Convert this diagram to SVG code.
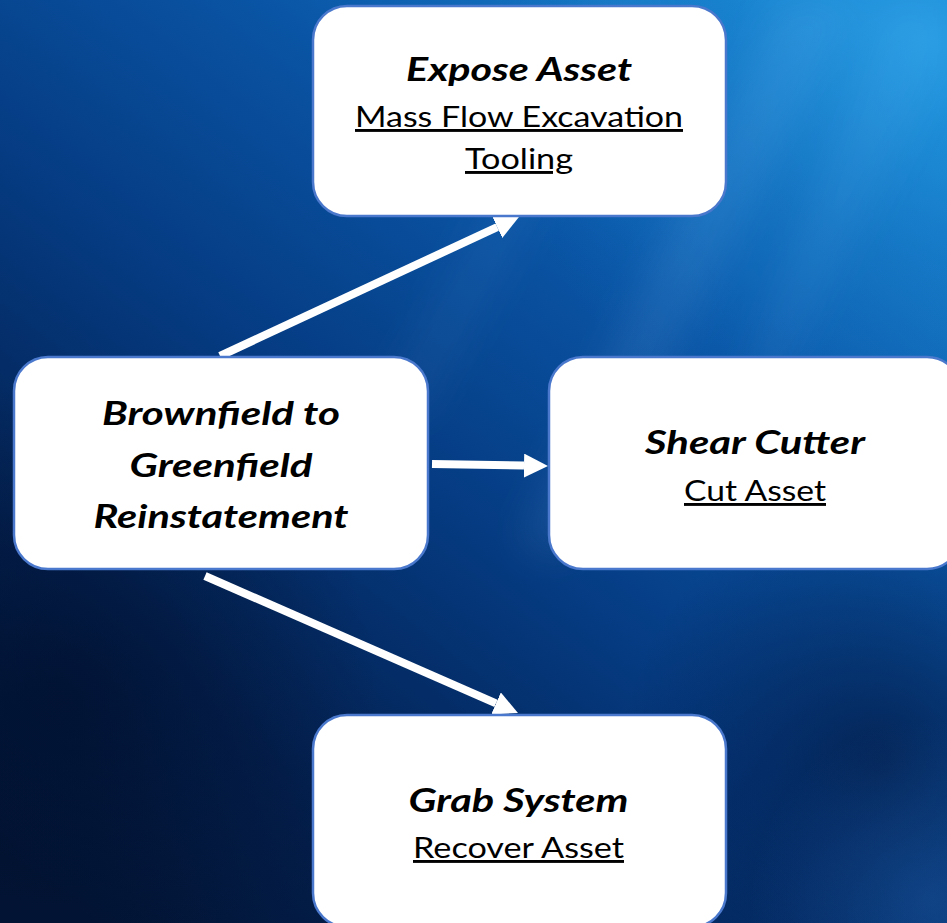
<svg xmlns="http://www.w3.org/2000/svg" width="947" height="923" viewBox="0 0 947 923">
  <defs>
    <linearGradient id="bg" x1="0.9" y1="0" x2="0.1" y2="1">
      <stop offset="0" stop-color="#1b8ed8"/>
      <stop offset="0.3" stop-color="#0a55a6"/>
      <stop offset="0.55" stop-color="#053a80"/>
      <stop offset="0.8" stop-color="#03204f"/>
      <stop offset="1" stop-color="#021536"/>
    </linearGradient>
    <radialGradient id="glowTR" cx="930" cy="40" r="440" gradientUnits="userSpaceOnUse">
      <stop offset="0" stop-color="#2aa2e8" stop-opacity="0.6"/>
      <stop offset="0.5" stop-color="#1a80d0" stop-opacity="0.25"/>
      <stop offset="1" stop-color="#1a80d0" stop-opacity="0"/>
    </radialGradient>
    <radialGradient id="glowBR" cx="930" cy="900" r="180" gradientUnits="userSpaceOnUse">
      <stop offset="0" stop-color="#2a70c0" stop-opacity="0.3"/>
      <stop offset="1" stop-color="#2a70c0" stop-opacity="0"/>
    </radialGradient>
    <radialGradient id="darkBL" cx="60" cy="700" r="320" gradientUnits="userSpaceOnUse">
      <stop offset="0" stop-color="#010d28" stop-opacity="0.6"/>
      <stop offset="1" stop-color="#010d28" stop-opacity="0"/>
    </radialGradient>
    <radialGradient id="darkBR" cx="880" cy="760" r="260" gradientUnits="userSpaceOnUse">
      <stop offset="0" stop-color="#020f30" stop-opacity="0.55"/>
      <stop offset="1" stop-color="#020f30" stop-opacity="0"/>
    </radialGradient>
    <filter id="blur" x="-20%" y="-20%" width="140%" height="140%">
      <feGaussianBlur stdDeviation="18"/>
    </filter>
    <marker id="head" markerUnits="userSpaceOnUse" markerWidth="26" markerHeight="26" refX="0" refY="12" orient="auto">
      <path d="M0,0 L24,12 L0,24 Z" fill="#ffffff"/>
    </marker>
    <style>
      .box { fill: #ffffff; stroke: #4a78cc; stroke-width: 2.5; }
      .title { font-family: Lato, "Open Sans", "Liberation Sans", sans-serif; font-weight: bold; font-style: italic; font-size: 33px; fill: #000000; text-anchor: middle; }
      .sub { font-family: Lato, "Open Sans", "Liberation Sans", sans-serif; font-size: 29px; fill: #000000; text-anchor: middle; text-decoration: underline; }
      .conn { stroke: #ffffff; stroke-width: 8; fill: none; marker-end: url(#head); }
    </style>
  </defs>

  <g id="background">
    <rect x="0" y="0" width="947" height="923" fill="url(#bg)"/>
    <rect x="0" y="0" width="947" height="923" fill="url(#glowTR)"/>
    <rect x="0" y="0" width="947" height="923" fill="url(#darkBR)"/>
    <rect x="0" y="0" width="947" height="923" fill="url(#glowBR)"/>
    <rect x="0" y="0" width="947" height="923" fill="url(#darkBL)"/>
    <g filter="url(#blur)" fill="#8fd0ff">
      <polygon points="780,0 860,0 560,560 520,540" opacity="0.10"/>
      <polygon points="880,0 947,0 947,60 700,520" opacity="0.08"/>
      <polygon points="600,0 660,0 420,420 380,400" opacity="0.06"/>
    </g>
  </g>

  <g id="connectors">
    <path class="conn" d="M220,356 L497.2,227.1"/>
    <path class="conn" d="M432,464 L524,465.6"/>
    <path class="conn" d="M205,576 L496,703.4"/>
  </g>

  <g id="node-expose">
    <rect class="box" x="313" y="6" width="413" height="210" rx="34" ry="34"/>
    <text class="title" x="519" y="81" textLength="226" lengthAdjust="spacingAndGlyphs">Expose Asset</text>
    <text class="sub" x="519" y="127" textLength="328" lengthAdjust="spacingAndGlyphs">Mass Flow Excavation</text>
    <text class="sub" x="519" y="169" textLength="108" lengthAdjust="spacingAndGlyphs">Tooling</text>
  </g>

  <g id="node-brownfield">
    <rect class="box" x="14" y="357" width="414" height="212" rx="34" ry="34"/>
    <text class="title" x="221" y="425" textLength="238" lengthAdjust="spacingAndGlyphs">Brownfield to</text>
    <text class="title" x="221" y="477" textLength="183" lengthAdjust="spacingAndGlyphs">Greenfield</text>
    <text class="title" x="221" y="528" textLength="255" lengthAdjust="spacingAndGlyphs">Reinstatement</text>
  </g>

  <g id="node-shear">
    <rect class="box" x="549" y="357" width="412" height="212" rx="34" ry="34"/>
    <text class="title" x="755" y="454" textLength="220" lengthAdjust="spacingAndGlyphs">Shear Cutter</text>
    <text class="sub" x="755" y="501" textLength="142" lengthAdjust="spacingAndGlyphs">Cut Asset</text>
  </g>

  <g id="node-grab">
    <rect class="box" x="313" y="715" width="413" height="212" rx="34" ry="34"/>
    <text class="title" x="518.5" y="812" textLength="220" lengthAdjust="spacingAndGlyphs">Grab System</text>
    <text class="sub" x="518.5" y="858" textLength="211" lengthAdjust="spacingAndGlyphs">Recover Asset</text>
  </g>
</svg>
